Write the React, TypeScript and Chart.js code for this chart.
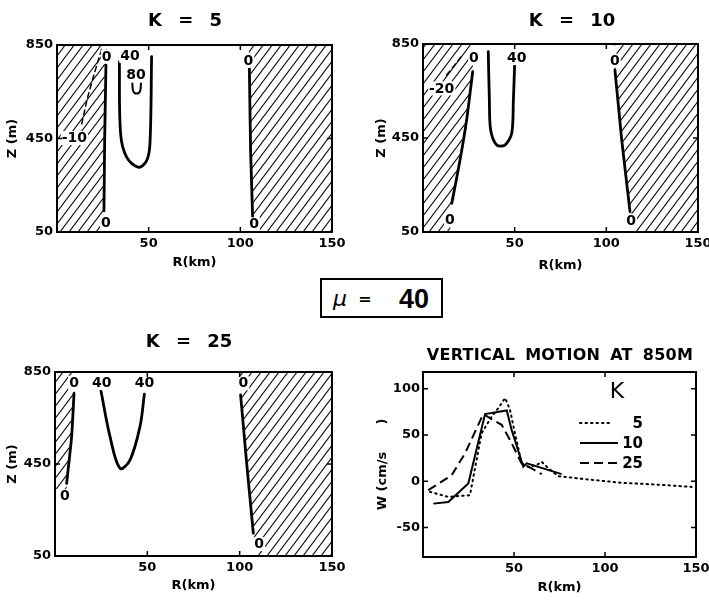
import { useEffect, useRef } from "react";
import { Chart, registerables } from "chart.js";

Chart.register(...registerables);

type Pt = [number, number];
type Lbl = [string, number, number];

const FONT = '"DejaVu Sans", sans-serif';

// ---- axis ticks ----
const R_TICKS = [50, 100, 150];
const Z_TICKS = [50, 450, 850];
const W_TICKS = [-50, 0, 50, 100];

// ---- K = 5 (R km, Z m) ----
const K5_HATCH_L: Pt[] = [[25.5, 50], [25.6, 140], [26.0, 450], [26.7, 764], [27.3, 850]];
const K5_ZERO_L: Pt[] = [[25.6, 140], [26.0, 450], [26.7, 764]];
const K5_MINUS10: Pt[] = [[13.5, 513], [16.5, 620], [19.5, 705], [22.5, 785], [24.5, 835]];
const K5_FORTY: Pt[] = [[34.0, 778], [34.7, 470], [38.0, 370], [44.4, 327], [48.9, 355], [50.7, 427], [51.6, 800]];
const K5_EIGHTY: Pt[] = [[41.1, 685], [41.6, 653], [43.5, 642], [45.3, 653], [45.8, 685]];
const K5_ZERO_R: Pt[] = [[106.7, 112], [105.6, 398], [104.9, 757]];
const K5_HATCH_R: Pt[] = [[106.8, 50], [106.7, 112], [105.6, 398], [104.9, 757], [104.5, 850]];
const K5_LABELS: Lbl[] = [["0", 27.1, 800], ["40", 39.8, 803], ["80", 43.1, 722], ["-10", 9.5, 452], ["0", 26.7, 90], ["0", 104.4, 782], ["0", 107.5, 83]];

// ---- K = 10 ----
const K10_HATCH_L: Pt[] = [[14.8, 50], [15.7, 172], [20.2, 356], [23.8, 527], [27.1, 732], [27.8, 850]];
const K10_ZERO_L: Pt[] = [[15.7, 172], [20.2, 356], [23.8, 527], [27.1, 732]];
const K10_MINUS20: Pt[] = [[12.9, 718], [17.0, 758], [21.1, 799]];
const K10_FORTY: Pt[] = [[35.6, 817], [36.2, 612], [36.9, 484], [40.2, 420], [44.7, 420], [48.4, 470], [49.3, 612], [50.0, 765]];
const K10_ZERO_R: Pt[] = [[112.9, 137], [108.4, 441], [104.7, 739]];
const K10_HATCH_R: Pt[] = [[113.5, 50], [112.9, 137], [108.4, 441], [104.7, 739], [104.2, 850]];
const K10_LABELS: Lbl[] = [["0", 27.8, 789], ["-20", 10.2, 661], ["0", 14.7, 101], ["40", 51.1, 790], ["0", 104.7, 779], ["0", 113.5, 98]];

// ---- K = 25 ----
const K25_HATCH_L: Pt[] = [[6.0, 340], [6.3, 366], [9.0, 569], [10.3, 757], [10.8, 850]];
const K25_ZERO_L: Pt[] = [[6.3, 366], [9.0, 569], [10.3, 757]];
const K25_FORTY: Pt[] = [[24.9, 767], [29.8, 569], [35.2, 431], [40.6, 467], [46.0, 612], [48.4, 754]];
const K25_ZERO_R: Pt[] = [[107.4, 149], [103.8, 453], [100.5, 750]];
const K25_HATCH_R: Pt[] = [[108.0, 50], [107.4, 149], [103.8, 453], [100.5, 750], [100.0, 850]];
const K25_LABELS: Lbl[] = [["0", 10.3, 803], ["40", 25.3, 803], ["40", 48.4, 803], ["0", 102, 801], ["0", 5.4, 311], ["0", 110.6, 102]];

// ---- vertical motion at 850 m ----
const W_K5_R = [3.8, 13.9, 25.8, 32.2, 37.7, 41.4, 45.1, 47.8, 50.5, 54.2, 57.9, 62.5, 65.2, 68.9, 74.4, 90.8, 109.2, 127.5, 147.6];
const W_K5 = [-11.6, -17, -15.2, 51.8, 69.9, 79, 89.9, 77.2, 51.8, 19.2, 15.6, 17.4, 21, 13.8, 5.4, 1.8, -1.8, -3.6, -6.2];
const W_K10_R = [5.7, 13.9, 24.9, 34.1, 46, 48.7, 55.1, 57, 76.2];
const W_K10 = [-24.3, -22.5, -2.5, 72.5, 76.4, 55.4, 15.6, 19.2, 7.6];
const W_K25_R = [2.9, 15.8, 23.1, 33.1, 43.2, 47.8, 54.2, 59.7, 65.2];
const W_K25 = [-9.8, 6.5, 30.1, 72.5, 60.9, 44.6, 19.2, 13.8, 7.6];
const LEGEND_K = ["5", "10", "25"];

// ---- layout geometry (plot area in page pixels) ----
const G1 = { area: [57, 45, 332, 232], wy: 57, hx: 44, tb: 6, tpy: 4 };
const G2 = { area: [423, 44, 698, 232], wy: 54, hx: 47, tb: 6, tpy: 4 };
const G3 = { area: [55, 372, 332, 556], wy: 55, hx: 43, tb: 6, tpy: 4 };
const G4 = { area: [423, 372, 696, 557], wy: 53, hx: 42, tb: 4, tpy: 3 };

const xy = (pts: Pt[]) => pts.map(([x, y]) => ({ x, y }));
const zip = (xs: number[], ys: number[]) => xs.map((x, i) => ({ x, y: ys[i] }));

function makeHatch(): CanvasPattern | string {
  const w = 9, h = 12;
  const c = document.createElement("canvas");
  c.width = w; c.height = h;
  const g = c.getContext("2d");
  if (!g) return "rgba(0,0,0,0.3)";
  g.strokeStyle = "#111";
  g.lineWidth = 1.1;
  g.beginPath();
  g.moveTo(0, h); g.lineTo(w, 0);
  g.moveTo(-w, h); g.lineTo(w, -h);
  g.moveTo(0, 2 * h); g.lineTo(2 * w, 0);
  g.stroke();
  return g.createPattern(c, "repeat") || "rgba(0,0,0,0.3)";
}

function padOf(g: any) {
  const [l, t, r, b] = g.area;
  return { left: l - g.wy, top: t, right: 709 - r, bottom: 600 - b - g.hx };
}

const TICK_FONT = { family: FONT, size: 13, weight: "bold" };
const TITLE_FONT = { family: FONT, size: 13, weight: "bold" };

function xScale(g: any) {
  return {
    type: "linear", min: 0, max: 150, position: "bottom",
    afterBuildTicks: (s: any) => { s.ticks = R_TICKS.map((v) => ({ value: v })); },
    afterFit: (s: any) => { s.height = g.hx; s.paddingLeft = 0; s.paddingRight = 0; },
    grid: { display: false, drawTicks: false }, border: { display: false },
    ticks: { color: "#000", font: TICK_FONT, padding: 4, maxRotation: 0, autoSkip: false },
    title: { display: true, text: "R(km)", color: "#000", font: TITLE_FONT, padding: { top: 0, bottom: g.tb } },
  };
}

function yScale(g: any, min: number, max: number, ticks: number[], title: string) {
  return {
    type: "linear", min, max, position: "left",
    afterBuildTicks: (s: any) => { s.ticks = ticks.map((v) => ({ value: v })); },
    afterFit: (s: any) => { s.width = g.wy; s.paddingTop = 0; s.paddingBottom = 0; },
    grid: { display: false, drawTicks: false }, border: { display: false },
    ticks: { color: "#000", font: TICK_FONT, padding: g.tpy, autoSkip: false },
    title: { display: true, text: title, color: "#000", font: TITLE_FONT, padding: { top: 5, bottom: 0 } },
  };
}

const framePlugin = {
  id: "frame",
  afterDraw(chart: any) {
    const { ctx, chartArea: a, scales } = chart;
    ctx.save();
    ctx.strokeStyle = "#000";
    ctx.lineWidth = 2;
    ctx.strokeRect(a.left, a.top, a.right - a.left, a.bottom - a.top);
    ctx.lineWidth = 1.5;
    const L = 5;
    ctx.beginPath();
    scales.x.ticks.forEach((t: any) => {
      const p = scales.x.getPixelForValue(t.value);
      if (p > a.left + 3 && p < a.right - 3) {
        ctx.moveTo(p, a.bottom); ctx.lineTo(p, a.bottom - L);
        ctx.moveTo(p, a.top); ctx.lineTo(p, a.top + L);
      }
    });
    scales.y.ticks.forEach((t: any) => {
      const p = scales.y.getPixelForValue(t.value);
      if (p > a.top + 3 && p < a.bottom - 3) {
        ctx.moveTo(a.left, p); ctx.lineTo(a.left + L, p);
        ctx.moveTo(a.right, p); ctx.lineTo(a.right - L, p);
      }
    });
    ctx.stroke();
    ctx.restore();
  },
};

function makeLabelPlugin(items: Lbl[]) {
  return {
    id: "contourLabels",
    afterDatasetsDraw(chart: any) {
      const { ctx } = chart;
      const sx = chart.scales.x, sy = chart.scales.y;
      ctx.save();
      ctx.font = `bold 14px ${FONT}`;
      ctx.textAlign = "center";
      ctx.textBaseline = "middle";
      items.forEach(([t, r, z]) => {
        const x = sx.getPixelForValue(r), y = sy.getPixelForValue(z);
        const w = ctx.measureText(t).width;
        ctx.fillStyle = "#fff";
        ctx.fillRect(x - w / 2 - 1, y - 7, w + 2, 14);
        ctx.fillStyle = "#000";
        ctx.fillText(t, x, y + 0.5);
      });
      ctx.restore();
    },
  };
}

const legendPlugin = {
  id: "wLegend",
  afterDraw(chart: any) {
    const { ctx, chartArea: a } = chart;
    ctx.save();
    ctx.fillStyle = "#000";
    ctx.textBaseline = "middle";
    ctx.textAlign = "center";
    ctx.font = `22px ${FONT}`;
    ctx.fillText("K", a.right - 79, a.top + 20);
    ctx.font = `bold 15px ${FONT}`;
    ctx.textAlign = "right";
    const ends = [83, 78, 78];
    chart.data.datasets.forEach((ds: any, i: number) => {
      const y = a.top + 51 + i * 20;
      ctx.save();
      ctx.strokeStyle = "#000";
      ctx.lineWidth = ds.borderWidth;
      ctx.setLineDash(ds.borderDash || []);
      ctx.lineCap = ds.borderCapStyle || "butt";
      ctx.beginPath();
      ctx.moveTo(a.right - 116, y);
      ctx.lineTo(a.right - ends[i], y);
      ctx.stroke();
      ctx.restore();
      ctx.fillText(LEGEND_K[i], a.right - 53, y + 1);
    });
    ctx.restore();
  },
};

type LineSpec = { pts: Pt[]; dash?: number[]; t?: number; w?: number };

function contourConfig(g: any, hatchL: Pt[], hatchR: Pt[], lines: LineSpec[], labels: Lbl[], pattern: any): any {
  const datasets: any[] = [
    { data: xy(hatchL), borderWidth: 0, pointRadius: 0, fill: { value: 0 }, backgroundColor: pattern, tension: 0 },
    { data: xy(hatchR), borderWidth: 0, pointRadius: 0, fill: { value: 150 }, backgroundColor: pattern, tension: 0 },
  ];
  lines.forEach((l) =>
    datasets.push({
      data: xy(l.pts), borderColor: "#000", borderWidth: l.w ?? 2.8, borderDash: l.dash ?? [],
      pointRadius: 0, fill: false, tension: l.t ?? 0, borderCapStyle: "round",
    })
  );
  return {
    type: "line",
    data: { datasets },
    options: {
      animation: false, responsive: false, events: [], indexAxis: "y",
      layout: { padding: padOf(g) },
      plugins: { legend: { display: false }, tooltip: { enabled: false }, title: { display: false } },
      scales: { x: xScale(g), y: yScale(g, 50, 850, Z_TICKS, "Z (m)") },
    },
    plugins: [makeLabelPlugin(labels), framePlugin],
  };
}

function wConfig(g: any): any {
  return {
    type: "line",
    data: {
      datasets: [
        { data: zip(W_K5_R, W_K5), borderColor: "#000", borderWidth: 2, borderDash: [1.5, 4], borderCapStyle: "round", pointRadius: 0, fill: false, tension: 0 },
        { data: zip(W_K10_R, W_K10), borderColor: "#000", borderWidth: 2, borderDash: [], borderCapStyle: "butt", pointRadius: 0, fill: false, tension: 0 },
        { data: zip(W_K25_R, W_K25), borderColor: "#000", borderWidth: 2, borderDash: [9, 5], borderCapStyle: "butt", pointRadius: 0, fill: false, tension: 0 },
      ],
    },
    options: {
      animation: false, responsive: false, events: [],
      layout: { padding: padOf(g) },
      plugins: { legend: { display: false }, tooltip: { enabled: false }, title: { display: false } },
      scales: { x: xScale(g), y: yScale(g, -82, 118, W_TICKS, "W (cm/s      )") },
    },
    plugins: [framePlugin, legendPlugin],
  };
}

const canvasStyle: any = { position: "absolute", left: 0, top: 0 };

function Title({ x, y, size, text, ws, ls }: { x: number; y: number; size: number; text: string; ws?: number; ls?: number }) {
  return (
    <div
      style={{
        position: "absolute", left: x, top: y, transform: "translate(-50%, -50%)",
        fontFamily: FONT, fontWeight: "bold", fontSize: size, lineHeight: 1, whiteSpace: "pre",
        wordSpacing: ws ?? 0, letterSpacing: ls ?? 0, color: "#000",
      }}
    >
      {text}
    </div>
  );
}

export default function App() {
  const c1 = useRef<HTMLCanvasElement>(null);
  const c2 = useRef<HTMLCanvasElement>(null);
  const c3 = useRef<HTMLCanvasElement>(null);
  const c4 = useRef<HTMLCanvasElement>(null);

  useEffect(() => {
    const pattern = makeHatch();
    const charts: Chart[] = [];
    if (c1.current)
      charts.push(new Chart(c1.current, contourConfig(G1, K5_HATCH_L, K5_HATCH_R, [
        { pts: K5_ZERO_L }, { pts: K5_ZERO_R },
        { pts: K5_MINUS10, dash: [5, 4], w: 1.5 },
        { pts: K5_FORTY, t: 0.35 }, { pts: K5_EIGHTY, t: 0.4, w: 2 },
      ], K5_LABELS, pattern)));
    if (c2.current)
      charts.push(new Chart(c2.current, contourConfig(G2, K10_HATCH_L, K10_HATCH_R, [
        { pts: K10_ZERO_L, t: 0.2 }, { pts: K10_ZERO_R },
        { pts: K10_MINUS20, dash: [5, 4], w: 1.5 },
        { pts: K10_FORTY, t: 0.3 },
      ], K10_LABELS, pattern)));
    if (c3.current)
      charts.push(new Chart(c3.current, contourConfig(G3, K25_HATCH_L, K25_HATCH_R, [
        { pts: K25_ZERO_L, t: 0.2 }, { pts: K25_ZERO_R },
        { pts: K25_FORTY, t: 0.35 },
      ], K25_LABELS, pattern)));
    if (c4.current) charts.push(new Chart(c4.current, wConfig(G4)));
    return () => charts.forEach((c) => c.destroy());
  }, []);

  return (
    <div style={{ position: "absolute", left: 0, top: 0, width: 709, height: 600, overflow: "hidden", background: "#fff" }}>
      <canvas ref={c1} width={709} height={600} style={canvasStyle} />
      <canvas ref={c2} width={709} height={600} style={canvasStyle} />
      <canvas ref={c3} width={709} height={600} style={canvasStyle} />
      <canvas ref={c4} width={709} height={600} style={canvasStyle} />
      <Title x={185} y={20} size={18} text="K = 5" ws={10} />
      <Title x={572} y={20} size={18} text="K = 10" ws={10} />
      <Title x={189} y={341} size={18} text="K = 25" ws={10} />
      <Title x={560} y={355} size={16} text="VERTICAL MOTION AT 850M" ws={4} ls={0.3} />
      <div
        style={{
          position: "absolute", left: 320, top: 278, width: 123, height: 40, boxSizing: "border-box",
          border: "2px solid #000", background: "#fff",
        }}
      >
        <span style={{ position: "absolute", left: 18, top: 19, transform: "translate(-50%, -50%)", fontFamily: FONT, fontStyle: "italic", fontSize: 22, lineHeight: 1 }}>μ</span>
        <span style={{ position: "absolute", left: 43, top: 19, transform: "translate(-50%, -50%)", fontFamily: FONT, fontWeight: "bold", fontSize: 16, lineHeight: 1 }}>=</span>
        <span style={{ position: "absolute", left: 92, top: 19, transform: "translate(-50%, -50%)", fontFamily: '"Liberation Sans", sans-serif', fontWeight: "bold", fontSize: 27, lineHeight: 1 }}>40</span>
      </div>
    </div>
  );
}
